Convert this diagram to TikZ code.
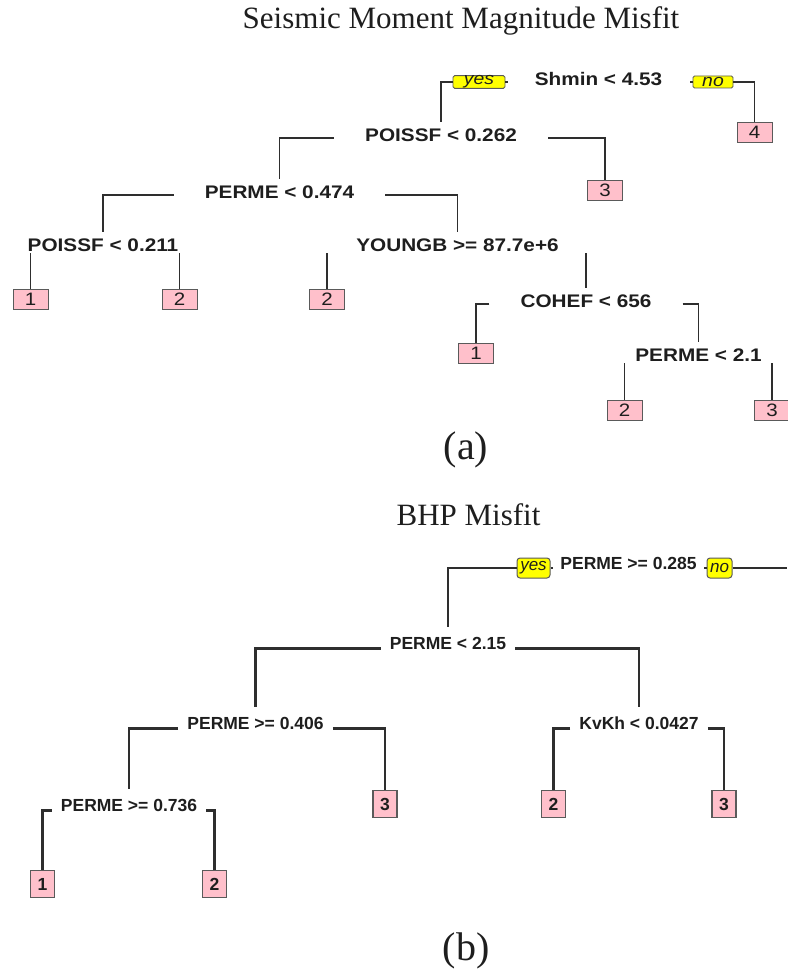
\documentclass[tikz,border=0pt]{standalone}
\usepackage{fontspec}
\setmainfont{Liberation Serif}
\setsansfont{Liberation Sans}
% the upper tree is set in a horizontally widened sans
\newfontfamily\widesans[FakeStretch=1.14]{Liberation Sans}
\usetikzlibrary{calc}

\definecolor{inkcol}{HTML}{1E1E1E}
\definecolor{linecol}{HTML}{2E2E2E}
\definecolor{leafpink}{HTML}{FFC0CB}
\definecolor{leafedge}{HTML}{5A5A5A}
\definecolor{tagyellow}{HTML}{FFFF00}

\tikzset{
  % upper tree
  branchA/.style={draw=linecol, line width=1.9pt},
  splitA/.style={anchor=base, inner xsep=31pt, inner ysep=0pt, text=inkcol,
    font=\widesans\bfseries\fontsize{18.2}{18.2}\selectfont,
    text height=19.5pt, text depth=1.5pt},
  leafA/.style={anchor=north, draw=leafedge, fill=leafpink, line width=1pt,
    minimum width=35pt, minimum height=20pt, inner sep=0pt, text=inkcol,
    font=\widesans\fontsize{18}{18}\selectfont},
  tagA/.style={draw=leafedge, fill=tagyellow, line width=0.9pt, rounded corners=1.5pt,
    minimum height=12pt, inner sep=0pt, text=inkcol,
    font=\widesans\itshape\fontsize{17}{17}\selectfont},
  % lower tree
  branchB/.style={draw=linecol, line width=2.2pt},
  splitB/.style={anchor=base, inner xsep=9pt, inner ysep=0pt, text=inkcol,
    font=\sffamily\bfseries\fontsize{17.5}{17.5}\selectfont,
    text height=22.3pt, text depth=0pt},
  leafB/.style={anchor=north, draw=leafedge, fill=leafpink, line width=1.1pt,
    minimum width=24pt, minimum height=27pt, inner sep=0pt, text=inkcol,
    font=\sffamily\bfseries\fontsize{17.5}{17.5}\selectfont},
  tagB/.style={draw=leafedge, fill=tagyellow, line width=1pt, rounded corners=3pt,
    minimum height=20pt, inner sep=0pt, text=inkcol,
    font=\sffamily\itshape\fontsize{17}{17}\selectfont},
  heading/.style={anchor=base, inner sep=0pt, text=inkcol,
    font=\fontsize{31}{31}\selectfont},
  panel/.style={anchor=base, inner sep=0pt, text=inkcol,
    font=\fontsize{40}{40}\selectfont},
}

\begin{document}
\begin{tikzpicture}[x=1pt, y=-1pt]
\useasboundingbox (0,0) rectangle (787,971);
\fill[white] (0,0) rectangle (787,971);

% ---------------- (a) Seismic moment magnitude misfit ----------------
\node[heading] (titleA) at (461,29) {Seismic Moment Magnitude Misfit};

\node[splitA] (t0) at (598.5,85.5) {Shmin < 4.53};
\node[tagA, minimum width=52pt] (yesA) at (479,82) {yes};
\node[tagA, minimum width=40pt] (noA) at (713,82) {no};

\node[splitA] (t1) at (441,141.5) {POISSF < 0.262};
\node[splitA] (t2) at (279.5,198.5) {PERME < 0.474};
\node[splitA] (t3) at (103,251.5) {POISSF < 0.211};
\node[splitA] (t4) at (457.5,251.5) {YOUNGB >= 87.7e+6};
\node[splitA] (t5) at (586,307.5) {COHEF < 656};
\node[splitA] (t6) at (698.5,361.5) {PERME < 2.1};

\node[leafA] (a0) at (754.5,122) {4};
\node[leafA] (a3) at (605,180) {3};
\node[leafA] (a1) at (30.5,289) {1};
\node[leafA] (a2) at (179.5,289) {2};
\node[leafA] (a4) at (327,289) {2};
\node[leafA] (a5) at (476,343) {1};
\node[leafA] (a6) at (624.5,400) {2};
\node[leafA] (a7) at (772,400) {3};

\draw[branchA] (yesA.west) -| (t1.north);
\draw[branchA] (noA.east) -| (a0.north);
\draw[branchA] (yesA.east) -- ++(3,0);
\draw[branchA] (noA.west) -- ++(-3,0);

\draw[branchA] ($(t1.south west)+(0,-5)$) -| (t2.north);
\draw[branchA] ($(t1.south east)+(0,-5)$) -| (a3.north);
\draw[branchA] ($(t2.south west)+(0,-5)$) -| (t3.north);
\draw[branchA] ($(t2.south east)+(0,-5)$) -| (t4.north);
\draw[branchA] (t3.south -| a1.north) -- (a1.north);
\draw[branchA] (t3.south -| a2.north) -- (a2.north);
\draw[branchA] (t4.south -| a4.north) -- (a4.north);
\draw[branchA] (t4.south -| t5.north) -- (t5.north);
\draw[branchA] ($(t5.south west)+(0,-5)$) -| (a5.north);
\draw[branchA] ($(t5.south east)+(0,-5)$) -| (t6.north);
\draw[branchA] (t6.south -| a6.north) -- (a6.north);
\draw[branchA] (t6.south -| a7.north) -- (a7.north);

\node[panel] (capA) at (466,459) {(a)};

% ---------------- (b) BHP misfit ----------------
\node[heading] (titleB) at (468.5,525) {BHP Misfit};

\node[splitB] (b0) at (628.5,569.3) {PERME >= 0.285};
\node[tagB, minimum width=33pt] (yesB) at (533.5,568) {yes};
\node[tagB, minimum width=25pt] (noB) at (719.5,568) {no};
\coordinate (edgeB) at (787,568);

\node[splitB] (b1) at (448,649.3) {PERME < 2.15};
\node[splitB] (b2) at (255.5,729.3) {PERME >= 0.406};
\node[splitB] (b3) at (639,729.3) {KvKh < 0.0427};
\node[splitB] (b4) at (129,811.3) {PERME >= 0.736};

\node[leafB] (c1) at (385,790) {3};
\node[leafB] (c2) at (553.5,790) {2};
\node[leafB] (c3) at (724,790) {3};
\node[leafB] (c4) at (42.5,870) {1};
\node[leafB] (c5) at (214.5,870) {2};

\draw[branchB] (yesB.west) -| (b1.north);
\draw[branchB] (noB.east) -- (edgeB);
\draw[branchB] (yesB.east) -- ++(2.5,0);
\draw[branchB] (noB.west) -- ++(-2.5,0);

\draw[branchB] ($(b1.south west)+(0,-1)$) -| (b2.north);
\draw[branchB] ($(b1.south east)+(0,-1)$) -| (b3.north);
\draw[branchB] ($(b2.south west)+(0,-1)$) -| (b4.north);
\draw[branchB] ($(b2.south east)+(0,-1)$) -| (c1.north);
\draw[branchB] ($(b3.south west)+(0,-1)$) -| (c2.north);
\draw[branchB] ($(b3.south east)+(0,-1)$) -| (c3.north);
\draw[branchB] ($(b4.south west)+(0,-1)$) -| (c4.north);
\draw[branchB] ($(b4.south east)+(0,-1)$) -| (c5.north);

\node[panel] (capB) at (466,960.5) {(b)};
\end{tikzpicture}
\end{document}
